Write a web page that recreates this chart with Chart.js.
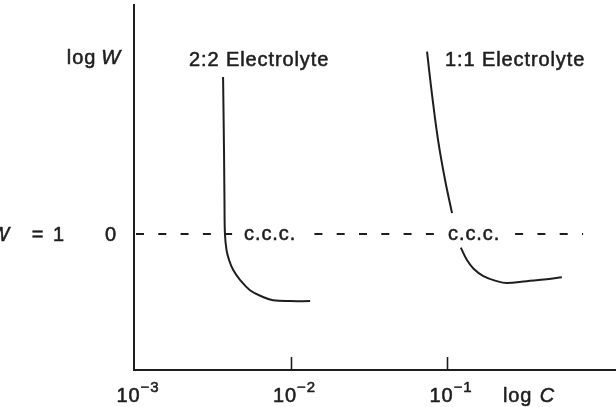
<!DOCTYPE html>
<html>
<head>
<meta charset="utf-8">
<script src="https://cdn.jsdelivr.net/npm/chart.js@4.4.1/dist/chart.umd.min.js"></script>
<style>
  html, body { margin: 0; padding: 0; background: #fff; }
  #wrap { width: 616px; height: 407px; position: relative; }
</style>
</head>
<body>
<div id="wrap"><canvas id="c" width="616" height="407"></canvas></div>
<script>
// ---- data ----
const conc22 = [0.003707, 0.003758, 0.003784, 0.003811, 0.003899, 0.004046, 0.004295, 0.004753, 0.005508, 0.006668, 0.007727, 0.009931, 0.01334];
const logW22 = [3.46, 1.85, 0.75, 0, -0.35, -0.57, -0.79, -1.01, -1.24, -1.39, -1.46, -1.48, -1.48];

const conc11Upper = [0.07447, 0.08019, 0.08760, 0.09710, 0.1076];
const logW11Upper = [4.02, 3.07, 2.07, 1.19, 0.46];

const conc11Lower = [0.1224, 0.1337, 0.1472, 0.1706, 0.2080, 0.2404, 0.3228, 0.4335, 0.5408];
const logW11Lower = [-0.30, -0.57, -0.76, -0.93, -1.04, -1.08, -1.04, -1.00, -0.955];

const dashConc = [0.001, 0.7396];
const dashLogW = [0, 0];

const xTickValues = [0.001, 0.01, 0.1];
const xTickExponents = ['\u22123', '\u22122', '\u22121'];

const seriesLabels = ['2:2 Electrolyte', '1:1 Electrolyte'];
const cccConc = [0.00505, 0.1015];   // where the "c.c.c." labels sit on the log W = 0 line

// ---- helpers ----
const toPts = (xs, ys) => xs.map((x, i) => ({ x: x, y: ys[i] }));
const INK = '#1e1e1e';
const FONT = '"Liberation Sans", Arial, Helvetica, sans-serif';

const lineStyle = {
  borderColor: INK, borderWidth: 2, pointRadius: 0, fill: false, tension: 0.4
};

function txt(ctx, s, x, y) {
  ctx.fillText(s, x, y);
  ctx.strokeText(s, x, y);
}

const textPlugin = {
  id: 'texts',
  afterDatasetsDraw(chart) {
    const ctx = chart.ctx;
    const xs = chart.scales.x, ys = chart.scales.y;
    const area = chart.chartArea;
    ctx.save();
    ctx.fillStyle = INK;
    ctx.strokeStyle = INK;

    // inner tick marks
    ctx.lineWidth = 1.6;
    [0.01, 0.1].forEach(v => {
      const px = Math.round(xs.getPixelForValue(v)) + 0.5;
      ctx.beginPath();
      ctx.moveTo(px, area.bottom);
      ctx.lineTo(px, area.bottom - 13);
      ctx.stroke();
    });

    try { ctx.letterSpacing = '0.9px'; } catch (e) {}
    ctx.lineWidth = 0.55;
    ctx.lineJoin = 'round';

    // c.c.c. labels with white boxes over the dashed line
    const y0 = ys.getPixelForValue(0);
    ctx.font = '20px ' + FONT;
    ctx.textBaseline = 'alphabetic';
    ctx.textAlign = 'left';
    cccConc.forEach(v => {
      const px = xs.getPixelForValue(v);
      const w = ctx.measureText('c.c.c.').width;
      ctx.fillStyle = '#fff';
      ctx.fillRect(px - 12, y0 - 9, w + 20, 18);
      ctx.fillStyle = INK;
      txt(ctx, 'c.c.c.', px, y0 + 6);
    });

    // series labels
    txt(ctx, seriesLabels[0], 189, 66);
    txt(ctx, seriesLabels[1], 445, 66);

    // y-axis texts
    ctx.textAlign = 'right';
    ctx.font = 'italic 20px ' + FONT;
    const wW = ctx.measureText('W').width;
    txt(ctx, 'W', 121, 64);
    ctx.font = '20px ' + FONT;
    txt(ctx, 'log', 121 - wW - 5, 64);

    txt(ctx, '0', 117, 241);
    txt(ctx, '1', 65, 241);
    ctx.textAlign = 'center';
    txt(ctx, '=', 38, 241);
    ctx.textAlign = 'right';
    ctx.font = 'italic 20px ' + FONT;
    txt(ctx, 'W', 10, 241);

    // x tick labels 10^n
    ctx.textAlign = 'left';
    xTickValues.forEach((v, i) => {
      const px = xs.getPixelForValue(v);
      ctx.font = '20px ' + FONT;
      const w1 = ctx.measureText('10').width;
      ctx.font = '15px ' + FONT;
      const w2 = ctx.measureText(xTickExponents[i]).width;
      const left = px + 4 - (w1 + w2) / 2;
      ctx.font = '20px ' + FONT;
      txt(ctx, '10', left, 402);
      ctx.font = '15px ' + FONT;
      txt(ctx, xTickExponents[i], left + w1, 392);
    });

    // x axis title
    ctx.font = '20px ' + FONT;
    txt(ctx, 'log', 503, 402);
    const wl = ctx.measureText('log ').width;
    ctx.font = 'italic 20px ' + FONT;
    txt(ctx, 'C', 503 + wl + 1, 402);

    ctx.restore();
  }
};

new Chart(document.getElementById('c'), {
  type: 'line',
  data: {
    datasets: [
      Object.assign({ label: seriesLabels[0], data: toPts(conc22, logW22) }, lineStyle),
      Object.assign({ label: seriesLabels[1] + ' (above)', data: toPts(conc11Upper, logW11Upper) }, lineStyle),
      Object.assign({ label: seriesLabels[1] + ' (below)', data: toPts(conc11Lower, logW11Lower) }, lineStyle),
      { label: 'W = 1', data: toPts(dashConc, dashLogW), borderColor: INK, borderWidth: 2,
        borderDash: [8, 14.3], borderDashOffset: -2, pointRadius: 0, fill: false, tension: 0 }
    ]
  },
  options: {
    responsive: false,
    animation: false,
    devicePixelRatio: 1,
    layout: { padding: { left: 134, right: 0, top: 5, bottom: 37 } },
    plugins: { legend: { display: false }, tooltip: { enabled: false } },
    scales: {
      x: {
        type: 'logarithmic', min: 0.001, max: 1.2,
        ticks: { display: false },
        grid: { display: false, drawTicks: false },
        border: { display: true, color: INK, width: 2 },
        title: { display: false }
      },
      y: {
        type: 'linear', min: -3, max: 5.05,
        ticks: { display: false },
        grid: { display: false, drawTicks: false },
        border: { display: true, color: INK, width: 2 },
        title: { display: false }
      }
    }
  },
  plugins: [textPlugin]
});
</script>
</body>
</html>
